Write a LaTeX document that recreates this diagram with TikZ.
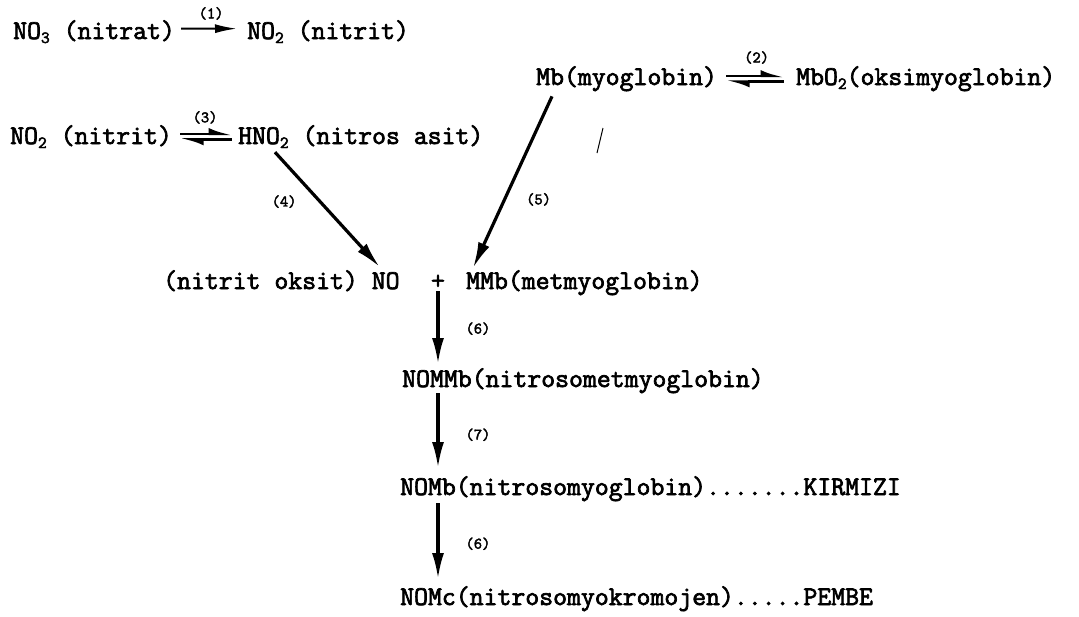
\documentclass[tikz,border=0pt]{standalone}
\usepackage{fontspec}
\newfontfamily\tw{Latin Modern Mono}[FakeBold=2.6]
\usetikzlibrary{arrows.meta}
\newcommand\sbs[1]{\raisebox{-4pt}{\fontsize{17}{17}\selectfont #1}}
\tikzset{
  txt/.style={anchor=base west, inner sep=0pt, font=\tw\fontsize{27}{27}\selectfont},
  lbl/.style={inner sep=0pt, font=\tw\fontsize{16}{16}\selectfont},
  fwd/.style={line width=2pt, -{Latex[length=22pt,width=9pt]}},
  big/.style={line width=3.2pt, -{Latex[length=26pt,width=12pt]}},
  eqtop/.style={line width=2.4pt, -{Latex[length=18pt,width=12pt,left]}},
  eqbot/.style={line width=2.4pt, {Latex[length=18pt,width=12pt,left]}-},
}
\begin{document}
\begin{tikzpicture}[x=1pt,y=-1pt]
\useasboundingbox (0,0) rectangle (1079,616);
% row 1
\node[txt] (n1) at (13,39) {NO\sbs{3} (nitrat)};
\node[txt] (n2) at (247,39) {NO\sbs{2} (nitrit)};
\draw[fwd, shorten <=6pt, shorten >=10pt] ([yshift=3pt]n1.east) -- ([yshift=3pt]n2.west)
  node[lbl, midway, above=8pt] {(1)};
% row 2
\node[txt] (mb) at (536,85) {Mb(myoglobin)};
\node[txt] (mbo) at (796,85) {MbO\sbs{2}(oksimyoglobin)};
\draw[eqtop, shorten <=9pt, shorten >=12pt] ([yshift=2.8pt]mb.east) -- ([yshift=2.8pt]mbo.west)
  node[lbl, midway, above=11pt] {(2)};
\draw[eqbot, shorten <=9pt, shorten >=12pt] ([yshift=-2.8pt]mb.east) -- ([yshift=-2.8pt]mbo.west);
% row 3
\node[txt] (no2b) at (10,144) {NO\sbs{2} (nitrit)};
\node[txt] (hno2) at (238,144) {HNO\sbs{2} (nitros asit)};
\draw[eqtop, shorten <=8pt, shorten >=6pt] ([yshift=2.8pt]no2b.east) -- ([yshift=2.8pt]hno2.west)
  node[lbl, midway, above=9pt] {(3)};
\draw[eqbot, shorten <=8pt, shorten >=6pt] ([yshift=-2.8pt]no2b.east) -- ([yshift=-2.8pt]hno2.west);
% stray mark
\coordinate (s1) at (603,128);
\coordinate (s2) at (597,153);
\draw[line width=1pt] (s1) -- (s2);
% row 4
\node[txt] (no) at (163,289) {(nitrit oksit) NO};
\node[txt, anchor=base] (plus) at (438,289) {+};
\node[txt] (mmb) at (466,289) {MMb(metmyoglobin)};
\draw[big] ([xshift=37pt,yshift=-4pt]hno2.south west) -- ([xshift=-20pt,yshift=3pt]no.north east)
  node[lbl, pos=0.43, left=22pt] {(4)};
\draw[big] ([xshift=16pt,yshift=-5pt]mb.south west) -- ([xshift=7pt,yshift=2pt]mmb.north west)
  node[lbl, pos=0.6, right=20pt] {(5)};
% chain
\node[txt] (nommb) at (402,387) {NOMMb(nitrosometmyoglobin)};
\node[txt] (nomb) at (400,495) {NOMb(nitrosomyoglobin).......KIRMIZI};
\node[txt] (nomc) at (400,605) {NOMc(nitrosomyokromojen).....PEMBE};
\draw[big, shorten <=2pt, shorten >=4pt] (plus.south) -- (plus.south |- nommb.north)
  node[lbl, midway, right=26pt] {(6)};
\draw[big, shorten <=0pt, shorten >=8pt] (plus.south |- nommb.south) -- (plus.south |- nomb.north)
  node[lbl, midway, right=26pt] {(7)};
\draw[big, shorten <=2pt, shorten >=7pt] (plus.south |- nomb.south) -- (plus.south |- nomc.north)
  node[lbl, midway, right=26pt] {(6)};
\end{tikzpicture}
\end{document}
